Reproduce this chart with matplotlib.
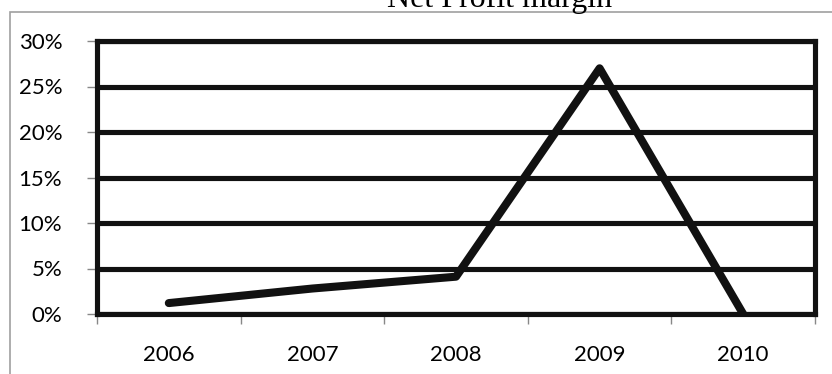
import matplotlib
matplotlib.use("Agg")
import matplotlib.pyplot as plt
from matplotlib.patches import Rectangle
from matplotlib.ticker import FixedLocator, FuncFormatter

years = ["2006", "2007", "2008", "2009", "2010"]
net_profit_margin = [1.2, 2.8, 4.1, 27.0, 0.0]  # percent
y_ticks = [0, 5, 10, 15, 20, 25, 30]

W, H = 832, 374
fig = plt.figure(figsize=(W / 100, H / 100), dpi=100)
fig.patch.set_facecolor("white")

# Outer chart border (extends past the right and bottom edges)
fig.patches.append(Rectangle((10 / W, -0.05), 1.2, (H - 12) / H + 0.05,
                             transform=fig.transFigure, fill=False,
                             edgecolor="#a0a0a0", linewidth=1.2, zorder=0))

fig.text(500 / W, 1 - 7 / H, "Net Profit margin", ha="center", va="baseline",
         fontsize=23, family="Liberation Serif", color="black")

left, right, top, bottom = 97, 815, 41, 314
ax = fig.add_axes([left / W, 1 - bottom / H, (right - left) / W, (bottom - top) / H])

x = list(range(len(years)))
ax.set_xlim(-0.5, len(years) - 0.5)
ax.set_ylim(0, 30)

for v in y_ticks:
    ax.axhline(v, color="#111111", linewidth=3.7, zorder=1)

ax.plot(x, net_profit_margin, color="#111111", linewidth=5.8,
        solid_capstyle="round", solid_joinstyle="round", zorder=3)

for side in ["left", "top", "right", "bottom"]:
    ax.spines[side].set_linewidth(3.7)
    ax.spines[side].set_color("#111111")

ax.yaxis.set_major_locator(FixedLocator(y_ticks))
ax.yaxis.set_major_formatter(FuncFormatter(lambda v, p: f"{v:.0f}%"))
ax.tick_params(axis="y", length=7, width=1, color="#888888", pad=18,
               labelsize=16)

ax.set_xticks(x)
ax.set_xticklabels(years)
ax.set_xticks([i - 0.5 for i in range(len(years) + 1)], minor=True)
ax.tick_params(axis="x", which="major", length=0, pad=22, labelsize=16)
ax.tick_params(axis="x", which="minor", length=7, width=1, color="#888888")

for lab in ax.get_xticklabels() + ax.get_yticklabels():
    lab.set_family("Lato")

fig.savefig("out.png", dpi=100)
